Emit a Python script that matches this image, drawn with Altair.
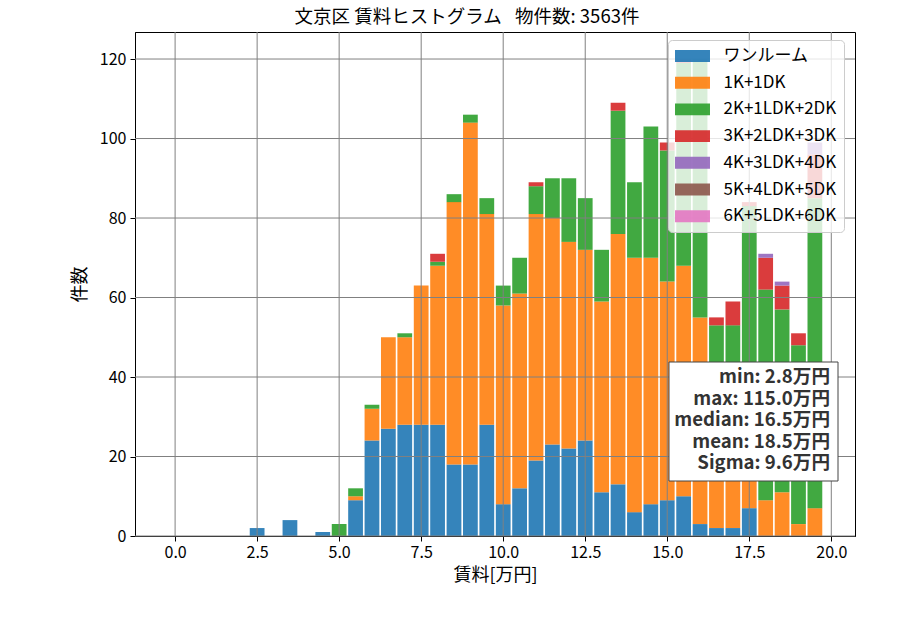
import altair as alt
import pandas as pd

FONT = "Noto Sans CJK JP"

# Bin centres of the 0.5万円-wide rent bins
bin_centers = [0.0, 0.5, 1.0, 1.5, 2.0, 2.5, 3.0, 3.5, 4.0, 4.5,
               5.0, 5.5, 6.0, 6.5, 7.0, 7.5, 8.0, 8.5, 9.0, 9.5,
               10.0, 10.5, 11.0, 11.5, 12.0, 12.5, 13.0, 13.5, 14.0, 14.5,
               15.0, 15.5, 16.0, 16.5, 17.0, 17.5, 18.0, 18.5, 19.0, 19.5]

room_types = ["ワンルーム", "1K+1DK", "2K+1LDK+2DK", "3K+2LDK+3DK",
              "4K+3LDK+4DK", "5K+4LDK+5DK", "6K+5LDK+6DK"]
type_colors = ["#1f77b4", "#ff7f0e", "#2ca02c", "#d62728",
               "#9467bd", "#8c564b", "#e377c2"]

# Listing counts per bin for each floor-plan type
counts_one_room = [0, 0, 0, 0, 0, 2, 0, 4, 0, 1,
                   0, 9, 24, 27, 28, 28, 28, 18, 18, 28,
                   8, 12, 19, 23, 22, 24, 11, 13, 6, 8,
                   9, 10, 3, 2, 2, 7, 0, 0, 0, 0]
counts_1k = [0, 0, 0, 0, 0, 0, 0, 0, 0, 0,
             0, 1, 8, 23, 22, 35, 40, 66, 86, 53,
             50, 49, 62, 57, 52, 48, 48, 63, 64, 62,
             55, 58, 52, 38, 29, 15, 9, 11, 3, 7]
counts_2k = [0, 0, 0, 0, 0, 0, 0, 0, 0, 0,
             3, 2, 1, 0, 1, 0, 1, 2, 2, 4,
             5, 9, 7, 10, 16, 13, 13, 31, 19, 33,
             33, 51, 65, 13, 22, 61, 53, 46, 45, 78]
counts_3k = [0, 0, 0, 0, 0, 0, 0, 0, 0, 0,
             0, 0, 0, 0, 0, 0, 2, 0, 0, 0,
             0, 0, 1, 0, 0, 0, 0, 2, 0, 0,
             2, 1, 0, 2, 6, 1, 8, 6, 3, 11]
counts_4k = [0, 0, 0, 0, 0, 0, 0, 0, 0, 0,
             0, 0, 0, 0, 0, 0, 0, 0, 0, 0,
             0, 0, 0, 0, 0, 0, 0, 0, 0, 0,
             0, 0, 0, 0, 0, 0, 1, 1, 0, 3]
counts_5k = [0] * 40
counts_6k = [0] * 40

series = [counts_one_room, counts_1k, counts_2k, counts_3k,
          counts_4k, counts_5k, counts_6k]

stats_lines = ["min: 2.8万円", "max: 115.0万円", "median: 16.5万円",
               "mean: 18.5万円", "Sigma: 9.6万円"]

title_text = "文京区 賃料ヒストグラム \u2002物件数: 3563件"
x_ticks = [0.0, 2.5, 5.0, 7.5, 10.0, 12.5, 15.0, 17.5, 20.0]
y_ticks = [0, 20, 40, 60, 80, 100, 120]

rows = []
for order, (name, values) in enumerate(zip(room_types, series)):
    for center, n in zip(bin_centers, values):
        if n > 0:
            rows.append({"center": center, "type": name, "count": n, "order": order})
df = pd.DataFrame(rows)

x_scale = alt.Scale(domain=[-1.2225, 20.7225], nice=False, zero=False)
y_scale = alt.Scale(domain=[0, 126.8], nice=False, zero=False)

x_axis = alt.Axis(values=x_ticks, format=".1f", title="賃料[万円]",
                  grid=False, labelPadding=3, titlePadding=6)
y_axis = alt.Axis(values=y_ticks, format="d", title="件数",
                  grid=False, labelPadding=4, titlePadding=10)

# Grid lines sit above the bars but below the legend and the stats box
vgrid = alt.Chart(pd.DataFrame({"v": x_ticks})).mark_rule(
    color="#808080", strokeWidth=1
).encode(x=alt.X("v:Q", scale=x_scale, axis=x_axis))

hgrid = alt.Chart(pd.DataFrame({"v": y_ticks})).mark_rule(
    color="#808080", strokeWidth=1
).encode(y=alt.Y("v:Q", scale=y_scale, axis=y_axis))

rect_path = "M-2,-0.68L2,-0.68L2,0.68L-2,0.68Z"

bars = alt.Chart(df).transform_stack(
    stack="count",
    groupby=["center"],
    sort=[alt.SortField(field="order", order="ascending")],
    as_=["y0", "y1"],
).transform_calculate(
    left="datum.center - 0.225",
    right="datum.center + 0.225",
).mark_rect(opacity=0.9).encode(
    x=alt.X("left:Q", scale=x_scale, axis=x_axis),
    x2="right:Q",
    y=alt.Y("y0:Q", scale=y_scale, axis=y_axis),
    y2="y1:Q",
    color=alt.Color(
        "type:N",
        scale=alt.Scale(domain=room_types, range=type_colors),
        legend=alt.Legend(
            title=None, orient="none", direction="vertical",
            legendX=533, legendY=8,
            fillColor="rgba(255,255,255,0.8)", strokeColor="#cccccc",
            cornerRadius=4, padding=7,
            symbolType=rect_path, symbolSize=306, symbolOffset=8.5,
            symbolStrokeWidth=0, symbolOpacity=0.9,
            labelOffset=22, rowPadding=9.7,
            labelFont=FONT, labelFontSize=17, labelColor="black",
        ),
    ),
)

# Summary statistics box in the lower right of the plot
stats_box = alt.Chart(pd.DataFrame({"k": [0]})).mark_rect(
    fill="white", stroke="#444444", strokeWidth=1
).encode(x=alt.value(534), x2=alt.value(703), y=alt.value(330), y2=alt.value(449))

stats_text = alt.Chart(pd.DataFrame({"label": ["\n".join(stats_lines)]})).mark_text(
    align="right", baseline="top", lineBreak="\n", lineHeight=21.6,
    font=FONT, fontSize=18.6, fontWeight="bold", color="#333333",
).encode(x=alt.value(695), y=alt.value(336), text="label:N")

chart = alt.layer(bars, vgrid, hgrid, stats_box, stats_text).properties(
    width=720,
    height=504,
    padding={"left": 135, "top": 32, "right": 45, "bottom": 94},
    autosize=alt.AutoSizeParams(type="none"),
    title=alt.TitleParams(title_text, font=FONT, fontSize=18.5, fontWeight="normal",
                          color="black", anchor="middle", offset=5, dx=-28),
).configure_view(
    stroke="black", strokeWidth=1
).configure_axis(
    labelFont=FONT, labelFontSize=16, labelColor="black",
    titleFont=FONT, titleFontSize=18, titleColor="black", titleFontWeight="normal",
    domainColor="black", tickColor="black", tickSize=5,
)

chart.save("out.html", embed_options={"renderer": "svg", "actions": False})
